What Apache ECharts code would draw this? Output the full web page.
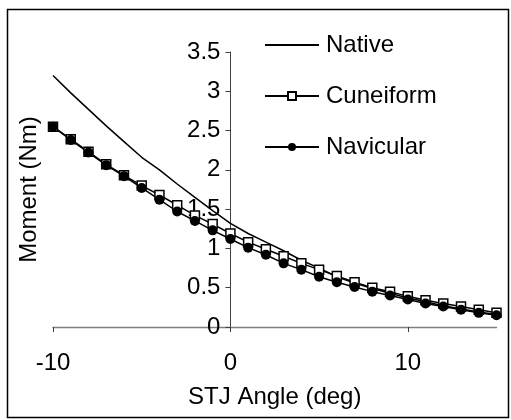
<!DOCTYPE html>
<html>
<head>
<meta charset="utf-8">
<script src="https://cdn.jsdelivr.net/npm/echarts@6/dist/echarts.min.js"></script>
<style>
  html, body { margin: 0; padding: 0; background: #fff; }
  #chart { width: 511px; height: 420px; }
</style>
</head>
<body>
<div id="chart"></div>
<script>
// STJ angle (deg) vs moment (Nm)
const angles = [-10, -9, -8, -7, -6, -5, -4, -3, -2, -1, 0, 1, 2, 3, 4, 5, 6, 7, 8, 9, 10, 11, 12, 13, 14, 15];
const native = [3.2, 2.98, 2.77, 2.56, 2.36, 2.16, 2.0, 1.82, 1.65, 1.48, 1.32, 1.19, 1.08, 0.97, 0.85, 0.75, 0.64, 0.56, 0.49, 0.43, 0.37, 0.32, 0.27, 0.23, 0.19, 0.16];
const cuneiform = [2.55, 2.39, 2.23, 2.07, 1.93, 1.8, 1.68, 1.55, 1.42, 1.31, 1.19, 1.08, 0.99, 0.9, 0.81, 0.73, 0.65, 0.57, 0.5, 0.45, 0.39, 0.34, 0.3, 0.26, 0.22, 0.18];
const navicular = [2.55, 2.38, 2.22, 2.06, 1.92, 1.77, 1.62, 1.47, 1.35, 1.23, 1.12, 1.01, 0.92, 0.81, 0.73, 0.64, 0.57, 0.51, 0.45, 0.4, 0.35, 0.3, 0.26, 0.22, 0.18, 0.15];
const xTicks = [-10, 0, 10];

const pairs = ys => angles.map((a, i) => [a, ys[i]]);
const font = 'Liberation Sans, Arial, sans-serif';

// grid box; the y axis is pushed right so it sits on x = 0
const gridLeft = 53, gridRight = 14.5, xMin = -10, xMax = 15;
const plotW = 511 - gridLeft - gridRight;
const yAxisShift = -plotW * (0 - xMin) / (xMax - xMin);

const myChart = echarts.init(document.getElementById('chart'));

myChart.setOption({
  backgroundColor: '#fff',
  animation: false,
  textStyle: { fontFamily: font, color: '#000' },
  graphic: [{
    type: 'rect',
    shape: { x: 7.5, y: 9.5, width: 501, height: 408 },
    style: { fill: 'none', stroke: '#000', lineWidth: 1.5 }
  }],
  grid: { left: gridLeft, right: gridRight, top: 52, bottom: 93, containLabel: false, outerBoundsMode: 'none' },
  legend: {
    orient: 'vertical',
    left: 264,
    top: 33,
    padding: 0,
    itemWidth: 54,
    itemHeight: 10,
    itemGap: 27,
    textStyle: { fontSize: 24, lineHeight: 24, color: '#000', fontFamily: font, padding: [0, 0, 0, 2] },
    data: [
      { name: 'Native', itemStyle: { color: 'rgba(0,0,0,0)', borderWidth: 0, opacity: 0 } },
      'Cuneiform',
      'Navicular'
    ]
  },
  xAxis: {
    type: 'value',
    min: xMin,
    max: xMax,
    interval: 10,
    name: 'STJ Angle (deg)',
    nameLocation: 'middle',
    nameGap: 58,
    nameTextStyle: { fontSize: 24, color: '#000' },
    splitLine: { show: false },
    axisLine: { onZero: false, lineStyle: { color: '#808080', width: 1.3 } },
    axisTick: { show: true, length: 5, customValues: xTicks, lineStyle: { color: '#404040' } },
    axisLabel: { fontSize: 24, color: '#000', margin: 24, customValues: xTicks }
  },
  yAxis: {
    type: 'value',
    min: 0,
    max: 3.5,
    interval: 0.5,
    offset: yAxisShift,
    name: 'Moment (Nm)',
    nameLocation: 'middle',
    nameGap: 189,
    nameTextStyle: { fontSize: 24, color: '#000' },
    splitLine: { show: false },
    axisLine: { show: true, onZero: false, lineStyle: { color: '#404040', width: 1 } },
    axisTick: { show: true, length: 5, lineStyle: { color: '#404040' } },
    axisLabel: { fontSize: 24, color: '#000', margin: 10 }
  },
  series: [
    {
      name: 'Native',
      type: 'line',
      data: pairs(native),
      showSymbol: false,
      symbol: 'none',
      lineStyle: { color: '#000', width: 1.5 },
      itemStyle: { color: '#000' }
    },
    {
      name: 'Cuneiform',
      type: 'line',
      data: pairs(cuneiform),
      symbol: 'rect',
      symbolSize: 9,
      lineStyle: { color: '#000', width: 1.5 },
      itemStyle: { color: '#fff', borderColor: '#000', borderWidth: 1.5 }
    },
    {
      name: 'Navicular',
      type: 'line',
      data: pairs(navicular),
      symbol: 'circle',
      symbolSize: 10,
      lineStyle: { color: '#000', width: 1.5 },
      itemStyle: { color: '#000', borderColor: '#000', borderWidth: 0 }
    }
  ]
});

window.addEventListener('resize', () => myChart.resize());
</script>
</body>
</html>
